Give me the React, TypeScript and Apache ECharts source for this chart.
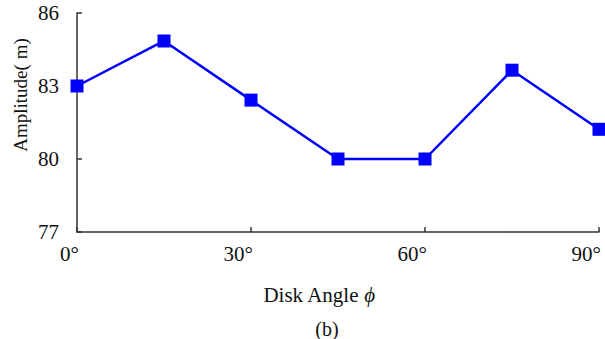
import React, { useEffect, useRef } from "react";
import * as echarts from "echarts";

const angles = [0, 15, 30, 45, 60, 75, 90];
const amplitudes = [83.0, 84.85, 82.42, 80.0, 80.0, 83.65, 81.22];
const yTitle = "Amplitude( m)";
const xTitle = "Disk Angle ";
const xSymbol = "ϕ";
const caption = "(b)";

export default function App() {
  const ref = useRef<HTMLDivElement>(null);
  useEffect(() => {
    if (!ref.current) return;
    const chart = echarts.init(ref.current, null, { renderer: "svg" });
    const font = "'Liberation Serif', 'Times New Roman', serif";
    chart.setOption({
      animation: false,
      backgroundColor: "#ffffff",
      grid: { left: 77, right: 6, top: 13, bottom: 107, containLabel: false },
      xAxis: {
        type: "value",
        min: 0,
        max: 90,
        interval: 30,
        axisLine: { show: true, lineStyle: { color: "#333333", width: 1.5 } },
        axisTick: { show: true, inside: true, length: 5, lineStyle: { color: "#333333", width: 1.5 } },
        splitLine: { show: false },
        axisLabel: {
          formatter: (v: number) => v + "°",
          color: "#111111",
          fontFamily: font,
          fontSize: 21,
          margin: 11,
          align: "right",
          padding: [0, -2, 0, 0],
        },
      },
      yAxis: {
        type: "value",
        min: 77,
        max: 86,
        interval: 3,
        axisLine: { show: true, lineStyle: { color: "#333333", width: 1.5 } },
        axisTick: { show: true, inside: true, length: 5, lineStyle: { color: "#333333", width: 1.5 } },
        splitLine: { show: false },
        axisLabel: {
          color: "#111111",
          fontFamily: font,
          fontSize: 21,
          margin: 18,
        },
      },
      graphic: [
        {
          type: "text",
          x: 20,
          y: 95,
          rotation: Math.PI / 2,
          style: {
            text: yTitle,
            fill: "#111111",
            font: "19px " + font,
            align: "center",
            verticalAlign: "middle",
          },
        },
        {
          type: "text",
          x: 319,
          y: 295,
          style: {
            text: xTitle + "{i|" + xSymbol + "}",
            fill: "#111111",
            font: "21px " + font,
            align: "center",
            verticalAlign: "middle",
            rich: { i: { fontStyle: "italic", fontFamily: font, fontSize: 21, fill: "#111111" } },
          },
        },
        {
          type: "text",
          x: 327,
          y: 329,
          style: {
            text: caption,
            fill: "#111111",
            font: "20px " + font,
            align: "center",
            verticalAlign: "middle",
          },
        },
      ],
      series: [
        {
          type: "line",
          data: angles.map((a, i) => [a, amplitudes[i]]),
          symbol: "rect",
          symbolSize: 13,
          lineStyle: { color: "#0000ff", width: 2.5 },
          itemStyle: { color: "#0000ff" },
          clip: false,
        },
      ],
    });
    return () => chart.dispose();
  }, []);
  return (
    <div
      ref={ref}
      style={{ position: "fixed", left: 0, top: 0, width: 605, height: 339, background: "#fff" }}
    />
  );
}
